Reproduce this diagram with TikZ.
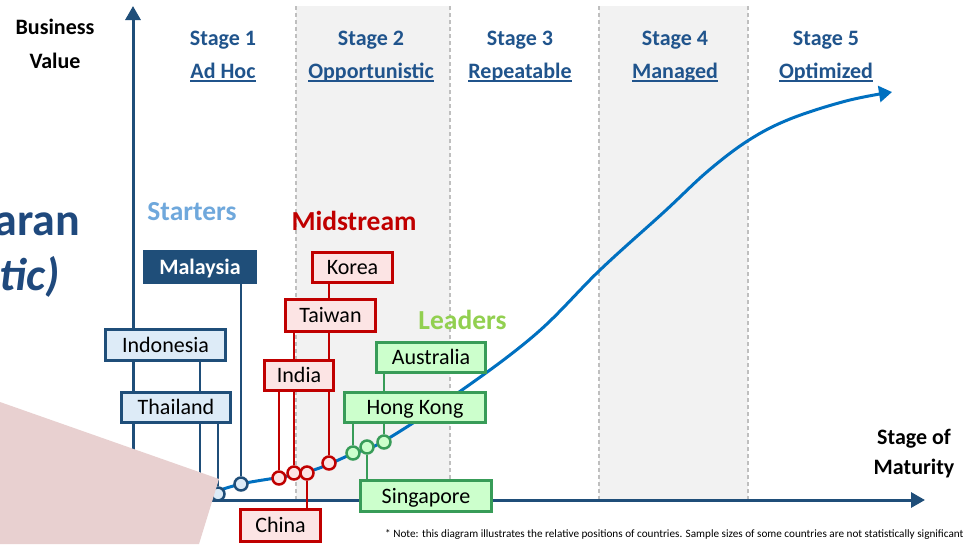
\documentclass[tikz,border=0pt]{standalone}
\usepackage{fontspec}
\setmainfont{Carlito}
\usetikzlibrary{arrows.meta}
\definecolor{axisblue}{RGB}{31,78,121}
\definecolor{stageblue}{RGB}{32,84,140}
\definecolor{curveblue}{RGB}{0,112,192}
\definecolor{startblue}{RGB}{111,168,220}
\definecolor{midred}{RGB}{192,0,0}
\definecolor{leadgreen}{RGB}{146,208,80}
\definecolor{bluefill}{RGB}{221,235,247}
\definecolor{redfill}{RGB}{252,228,228}
\definecolor{greenfill}{RGB}{204,255,204}
\definecolor{greenline}{RGB}{56,156,88}
\definecolor{bandgray}{RGB}{242,242,242}
\definecolor{dashgray}{RGB}{191,191,191}
\definecolor{pinkshape}{RGB}{232,208,208}
\definecolor{titleblue}{RGB}{31,73,125}
\newcommand\stul[1]{\leavevmode\setbox0\hbox{#1}\rlap{\color{stageblue}\rule[-3.5pt]{\wd0}{1.8pt}}\box0}
\pgfdeclarelayer{bands}
\pgfdeclarelayer{wires}
\pgfdeclarelayer{overlay}
\pgfsetlayers{bands,wires,main,overlay}
\tikzset{
  stagetxt/.style={text=stageblue, font=\fontsize{22}{26}\selectfont\bfseries, anchor=base, inner sep=0},
  axistxt/.style={text=black, font=\fontsize{22}{26}\selectfont\bfseries, anchor=base, inner sep=0},
  grouptxt/.style={font=\fontsize{27.5}{30}\selectfont\bfseries, anchor=base, inner sep=0},
  cbox/.style={draw, line width=2.8pt, inner sep=0, font=\fontsize{22}{26}\selectfont, text=black, text height=16pt, text depth=2pt},
  bluebox/.style={cbox, draw=axisblue, fill=bluefill},
  darkbox/.style={cbox, draw=axisblue, fill=axisblue, text=white, font=\fontsize{22}{26}\selectfont\bfseries},
  redbox/.style={cbox, draw=midred, fill=redfill},
  greenbox/.style={cbox, draw=greenline, fill=greenfill},
  dot/.style={circle, draw, line width=2.5pt, inner sep=0, minimum size=13pt},
  bluedot/.style={dot, draw=axisblue, fill=bluefill},
  reddot/.style={dot, draw=midred, fill=redfill},
  greendot/.style={dot, draw=greenline, fill=greenfill},
  leader/.style={line width=2.8pt},
  axisline/.style={line width=3pt, draw=axisblue, -{Triangle[length=14pt,width=15pt]}},
  bandedge/.style={draw=dashgray, line width=1.4pt, dash pattern=on 4pt off 3pt},
}
\begin{document}
\begin{tikzpicture}[x=1pt,y=-1pt]
\useasboundingbox (0,0) rectangle (966,544);
\begin{pgfonlayer}{bands}
\fill[white] (0,0) rectangle (966,544);
\fill[bandgray] (296,6) rectangle (450,500);
\fill[bandgray] (599,6) rectangle (748,500);
\draw[bandedge] (296,6) -- (296,500);
\draw[bandedge] (450,6) -- (450,500);
\draw[bandedge] (599,6) -- (599,500);
\draw[bandedge] (748,6) -- (748,500);
\coordinate (origin) at (133,500);
\coordinate (ytip) at (133,6);
\coordinate (xtip) at (925,500);
\draw[axisline] (origin) -- (ytip);
\draw[axisline] (origin) -- (xtip);
\end{pgfonlayer}
% dots
\coordinate (cindo) at (200,497);
\node[bluedot] (cthai) at (218,494) {};
\node[bluedot] (cmalay) at (241,484) {};
\node[reddot] (cindia) at (279,478) {};
\node[reddot] (ctaiwan) at (294,473) {};
\node[reddot] (cchina) at (307,473) {};
\node[reddot] (ckorea) at (329,463) {};
\node[greendot] (chk) at (353,453) {};
\node[greendot] (csing) at (367,447) {};
\node[greendot] (caus) at (384,442) {};
% boxes
\node[bluebox, minimum width=120.2pt, minimum height=31.2pt] (indonesia) at (165.5,345) {Indonesia};
\node[bluebox, minimum width=109.2pt, minimum height=30.2pt] (thailand) at (176,407.5) {Thailand};
\node[darkbox, minimum width=111.2pt, minimum height=31.2pt] (malaysia) at (200,267) {Malaysia};
\node[redbox, minimum width=80.2pt, minimum height=30.2pt] (korea) at (352.5,267.5) {Korea};
\node[redbox, minimum width=90.2pt, minimum height=32.2pt] (taiwan) at (330.5,315.5) {Taiwan};
\node[redbox, minimum width=69.2pt, minimum height=30.2pt] (india) at (299,375.5) {India};
\node[redbox, minimum width=80.2pt, minimum height=32.2pt] (china) at (280.5,525.5) {China};
\node[greenbox, minimum width=109.2pt, minimum height=30.2pt] (australia) at (431,357.5) {Australia};
\node[greenbox, minimum width=141.2pt, minimum height=30.2pt] (hongkong) at (415,407.5) {Hong Kong};
\node[greenbox, minimum width=131.2pt, minimum height=31.2pt] (singapore) at (426,496) {Singapore};
% leaders and curve behind boxes
\begin{pgfonlayer}{wires}
\draw[leader, axisblue] (indonesia.south -| cindo) -- (cindo);
\draw[leader, axisblue] (thailand.south -| cthai) -- (cthai);
\draw[leader, axisblue] (malaysia.south -| cmalay) -- (cmalay);
\draw[leader, midred] (korea.south -| ckorea) -- (ckorea);
\draw[leader, midred] (taiwan.south -| ctaiwan) -- (ctaiwan);
\draw[leader, midred] (india.south -| cindia) -- (cindia);
\draw[leader, midred] (china.north -| cchina) -- (cchina);
\draw[leader, greenline] (australia.south -| caus) -- (caus);
\draw[leader, greenline] (hongkong.south -| chk) -- (chk);
\draw[leader, greenline] (singapore.north -| csing) -- (csing);
\draw[line width=3pt, curveblue, -{Triangle[length=13pt,width=16pt]}]
  plot[smooth, tension=0.6] coordinates {(200,497) (241,484) (307,472) (352,454) (384,441) (462,390) (537,333) (600,270) (664,212) (708,171) (749,140) (790,119) (846,101) (892,92)};
\end{pgfonlayer}
% stage labels
\node[stagetxt] (s1a) at (223,45) {Stage 1};
\node[stagetxt] (s1b) at (223,78) {\stul{Ad Hoc}};
\node[stagetxt] (s2a) at (371,45) {Stage 2};
\node[stagetxt] (s2b) at (371,78) {\stul{Opportunistic}};
\node[stagetxt] (s3a) at (520,45) {Stage 3};
\node[stagetxt] (s3b) at (520,78) {\stul{Repeatable}};
\node[stagetxt] (s4a) at (675,45) {Stage 4};
\node[stagetxt] (s4b) at (675,78) {\stul{Managed}};
\node[stagetxt] (s5a) at (826,45) {Stage 5};
\node[stagetxt] (s5b) at (826,78) {\stul{Optimized}};
% axis labels
\node[axistxt] (bv1) at (55,34) {Business};
\node[axistxt] (bv2) at (55,68) {Value};
\node[axistxt] (sm1) at (914,444) {Stage of};
\node[axistxt] (sm2) at (914,474) {Maturity};
% group labels
\node[grouptxt, text=startblue] (starters) at (192,220) {Starters};
\node[grouptxt, text=midred] (midstream) at (354,230) {Midstream};
\node[grouptxt, text=leadgreen] (leaders) at (462.5,329) {Leaders};
% cut-off title fragments
\node[anchor=base east, inner sep=0, text=titleblue, font=\fontsize{46}{50}\selectfont\bfseries] (t1) at (80,235) {aran};
\node[anchor=base east, inner sep=0, text=titleblue, font=\fontsize{46}{50}\selectfont\bfseries\itshape] (t2) at (60,290) {tic)};
% note
\node[anchor=base west, inner sep=0, font=\fontsize{11.2}{13}\selectfont] (note) at (385,537) {* Note: this diagram illustrates the relative positions of countries. Sample sizes of some countries are not statistically significant};
% pink overlay
\begin{pgfonlayer}{overlay}
\fill[pinkshape] (0,402) -- (219,479) -- (199,544) -- (0,544) -- cycle;
\end{pgfonlayer}
\end{tikzpicture}
\end{document}
